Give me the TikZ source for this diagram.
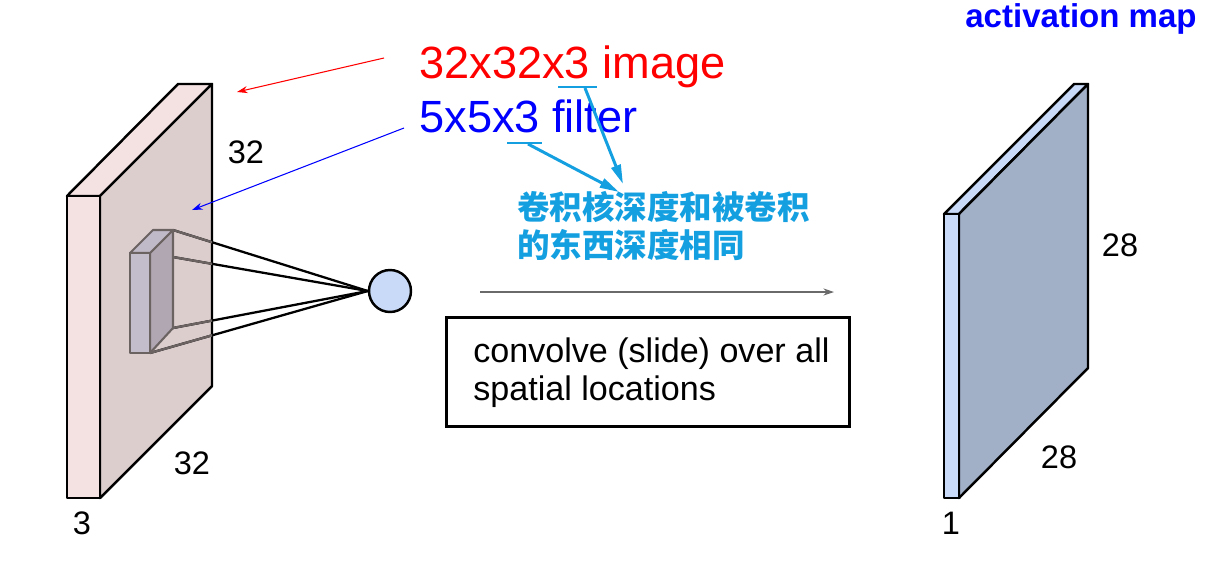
\documentclass[tikz,border=0pt]{standalone}
\usepackage{fontspec}
\setmainfont{Liberation Sans}
\newfontfamily\cjkfont{Noto Sans CJK SC}
\usetikzlibrary{arrows.meta}
\usetikzlibrary{positioning}
\definecolor{slabfront}{HTML}{F4E2E2}
\definecolor{slabface}{HTML}{DDCECE}
\definecolor{filterfront}{HTML}{C3BCCB}
\definecolor{filterside}{HTML}{B0A7B3}
\definecolor{filteredge}{HTML}{6B6262}
\definecolor{mapfront}{HTML}{C9DAF8}
\definecolor{mapface}{HTML}{A1B0C7}
\definecolor{notecyan}{HTML}{14A0E0}
\definecolor{slidegray}{HTML}{6A6A6A}
\tikzstyle{slab} = [draw=black, line width=1.4pt, line join=round]
\tikzstyle{filterbox} = [draw=filteredge, line width=1.2pt, line join=round]
\tikzstyle{wire} = [draw=black, line width=1.3pt]
\tikzstyle{neuron} = [circle, draw=black, line width=1.4pt, fill=mapfront, minimum size=0.84cm, inner sep=0]
\tikzstyle{dimlabel} = [font=\fontsize{18.5}{22}\selectfont, inner sep=0]
\tikzstyle{bigtext} = [font=\fontsize{25.7}{30}\selectfont, anchor=base west, inner sep=0]
\tikzstyle{notetext} = [font=\cjkfont\bfseries\fontsize{18.5}{21.5}\selectfont, text=notecyan, align=left, anchor=north west, inner sep=0]
\tikzstyle{thinarrow} = [line width=0.6pt, -{Stealth[length=6pt, width=4pt]}]
\tikzstyle{notearrow} = [draw=notecyan, line width=1.7pt, -{Triangle[length=11pt, width=5.5pt]}]
\tikzstyle{underline} = [draw=notecyan, line width=1.1pt]

\begin{document}
\begin{tikzpicture}[x=0.02cm, y=-0.02cm]
    \useasboundingbox (0,0) rectangle (1211,569);

    % input volume
    \filldraw[slab, fill=slabfront] (67,196) -- (178,84) -- (212,84) -- (100,196) -- cycle;
    \filldraw[slab, fill=slabface] (100,196) -- (212,84) -- (212,386) -- (100,498) -- cycle;
    \filldraw[slab, fill=slabfront] (67,196) rectangle (100,498);

    % filter
    \coordinate (fb) at (150,253);
    \coordinate (fc) at (173,230);
    \coordinate (fg) at (173,328);
    \coordinate (ff) at (150,353);
    \node (neuron) [neuron] at (390,291) {};

    \foreach \c in {fb,fc,fg,ff}
        \draw[wire] (\c) -- (neuron.west);
    \begin{scope}
        \clip (100,196) -- (212,84) -- (212,386) -- (100,498) -- cycle;
        \foreach \c in {fb,fc,fg,ff}
            \draw[wire, draw=filteredge] (\c) -- (neuron.west);
    \end{scope}

    \filldraw[filterbox, fill=filterside] (fb) -- (fc) -- (fg) -- (ff) -- cycle;
    \filldraw[filterbox, fill=filterfront!85!filterside] (130,253) -- (153,230) -- (fc) -- (fb) -- cycle;
    \filldraw[filterbox, fill=filterfront] (130,253) rectangle (ff);

    % activation map
    \filldraw[slab, fill=mapfront] (944,214) -- (1074,84) -- (1088,84) -- (959,214) -- cycle;
    \filldraw[slab, fill=mapface] (959,214) -- (1088,84) -- (1088,368) -- (959,498) -- cycle;
    \filldraw[slab, fill=mapfront] (944,214) rectangle (959,498);

    % labels
    \node (inH) [dimlabel] at (246,152) {32};
    \node (inW) [dimlabel] at (192,463) {32};
    \node (inD) [dimlabel] at (82,523) {3};
    \node (mapH) [dimlabel] at (1120,245) {28};
    \node (mapW) [dimlabel] at (1059,457) {28};
    \node (mapD) [dimlabel] at (951,523) {1};
    \node (maptitle) [font=\bfseries\fontsize{18.8}{22}\selectfont, text=blue, anchor=base, inner sep=0] at (1081,27) {activation map};

    \node (imgtxt) [bigtext, text=red] at (419,78) {32x32x3 image};
    \node (filttxt) [bigtext, text=blue] at (419,132) {5x5x3 filter};
    \node (note) [notetext] at (517,191) {卷积核深度和被卷积\\的东西深度相同};

    \node (slidebox) [draw=black, line width=1.5pt, minimum width=8.06cm, minimum height=2.18cm] at (648,372) {};
    \node (slidetext) [font=\fontsize{19.4}{21.5}\selectfont, align=left, anchor=west, inner sep=0] at (473,373) {convolve (slide) over all\\spatial locations};

    \coordinate (imgfrom) at (384,58);
    \coordinate (imgto) at (237,92);
    \coordinate (filtfrom) at (404,128);
    \coordinate (filtto) at (192,210);
    \coordinate (imgmark) at (585,88);
    \coordinate (imgtip) at (623,184);
    \coordinate (filtmark) at (528,144);
    \coordinate (filttip) at (619,192);
    \coordinate (slidefrom) at (480,292);
    \coordinate (slideto) at (834,292);

    \draw[thinarrow, red] (imgfrom) -- (imgto);
    \draw[thinarrow, blue] (filtfrom) -- (filtto);
    \draw[underline] (558,87) -- (597,87);
    \draw[underline] (507,143) -- (542,143);
    \draw[notearrow] (imgmark) -- (imgtip);
    \draw[notearrow] (filtmark) -- (filttip);
    \draw[thinarrow, slidegray] (slidefrom) -- (slideto);

\end{tikzpicture}
\end{document}
